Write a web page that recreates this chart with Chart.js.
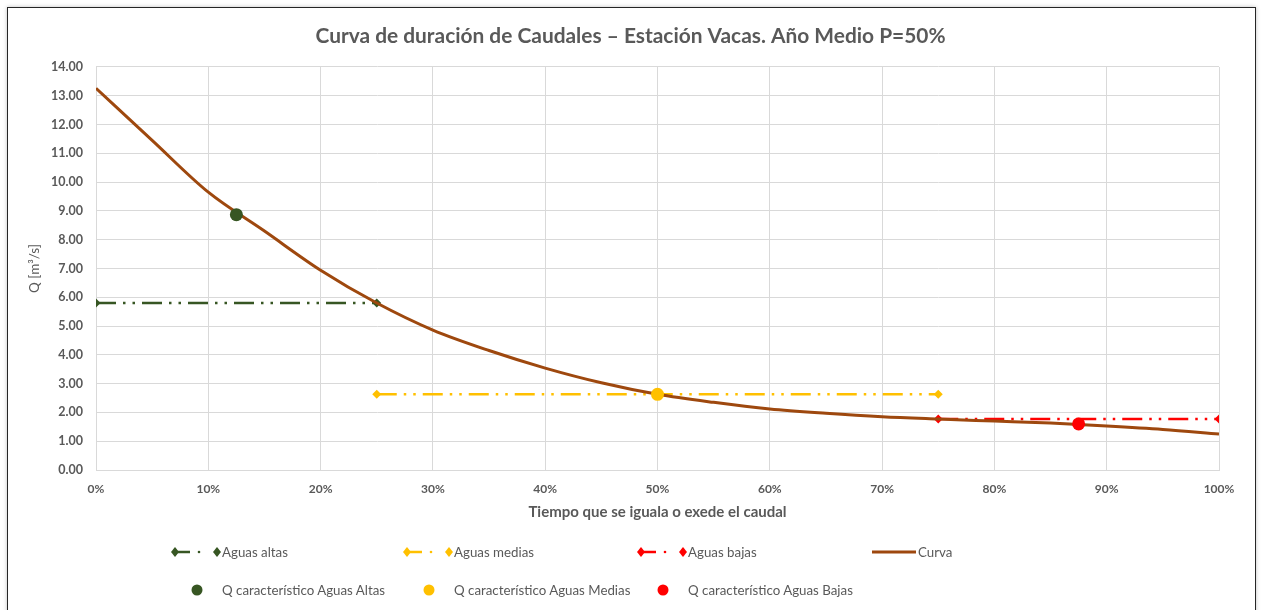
<!DOCTYPE html>
<html>
<head>
<meta charset="utf-8">
<script src="https://cdn.jsdelivr.net/npm/chart.js@4"></script>
<style>
  body { margin: 0; background: #fff; width: 1261px; height: 610px; overflow: hidden; position: relative; font-family: Lato, "Open Sans", sans-serif; }
  #frame { position: absolute; left: 7px; top: 7px; width: 1247px; height: 640px; border: 1px solid #262626; box-shadow: 0 0 4px rgba(0,0,0,0.25); pointer-events: none; }
  #wrap { position: absolute; left: 0; top: 0; }
  .leg { position: absolute; font-size: 13.3px; color: #595959; display: flex; align-items: center; white-space: nowrap; }
  .leg svg { display: block; }
</style>
</head>
<body>
<div id="wrap"><canvas id="chart" width="1261" height="530"></canvas></div>
<div id="frame"></div>
<div id="legend"></div>
<script>
// ============================================================================
//  DATOS
// ============================================================================
const curvaX = [0, 5, 10, 15, 20, 25, 30, 35, 40, 45, 50, 55, 60, 65, 70, 75, 80, 85, 90, 95, 100];
const curvaQ = [13.26, 11.45, 9.65, 8.30, 6.94, 5.80, 4.86, 4.15, 3.54, 3.03, 2.63, 2.35, 2.12, 1.97, 1.85, 1.77, 1.70, 1.63, 1.53, 1.41, 1.25];

const altasX = [0, 25];
const altasQ = [5.80, 5.80];
const mediasX = [25, 75];
const mediasQ = [2.63, 2.63];
const bajasX = [75, 100];
const bajasQ = [1.77, 1.77];

const qAltas = { x: 12.5, y: 8.87 };
const qMedias = { x: 50, y: 2.63 };
const qBajas = { x: 87.5, y: 1.60 };

const yTicks = [0, 1, 2, 3, 4, 5, 6, 7, 8, 9, 10, 11, 12, 13, 14];
const xTicks = [0, 10, 20, 30, 40, 50, 60, 70, 80, 90, 100];

const VERDE = "#375623", AMARILLO = "#FFC000", ROJO = "#FF0000", MARRON = "#9E480E";
const GRIS = "#595959";
const DASH = [20, 7, 2.5, 7, 2.5, 7];

const pts = (xs, ys) => xs.map((x, i) => ({ x: x, y: ys[i] }));

function lineaAguas(label, xs, ys, color) {
    return {
        label: label, data: pts(xs, ys), borderColor: color, backgroundColor: color,
        borderWidth: 2.5, borderDash: DASH, pointStyle: "rectRot", pointRadius: 4.5,
        pointBorderWidth: 0, order: 3
    };
}
function puntoQ(label, p, color) {
    return {
        label: label, data: [p], borderColor: color, backgroundColor: color,
        showLine: false, pointRadius: 6.5, pointBorderWidth: 0, order: 0
    };
}

// ============================================================================
//  CHART
// ============================================================================
new Chart(document.getElementById("chart"), {
    type: "line",
    data: {
        datasets: [
            lineaAguas("Aguas altas", altasX, altasQ, VERDE),
            lineaAguas("Aguas medias", mediasX, mediasQ, AMARILLO),
            lineaAguas("Aguas bajas", bajasX, bajasQ, ROJO),
            {
                label: "Curva", data: pts(curvaX, curvaQ), borderColor: MARRON,
                borderWidth: 3, pointRadius: 0, cubicInterpolationMode: "monotone", order: 1
            },
            puntoQ("Q característico Aguas Altas", qAltas, VERDE),
            puntoQ("Q característico Aguas Medias", qMedias, AMARILLO),
            puntoQ("Q característico Aguas Bajas", qBajas, ROJO)
        ]
    },
    options: {
        responsive: false,
        animation: false,
        layout: { padding: { top: 10, right: 0, left: 0, bottom: 0 } },
        plugins: {
            legend: { display: false },
            tooltip: { enabled: false },
            title: {
                display: true,
                text: "Curva de duración de Caudales – Estación Vacas. Año Medio P=50%",
                color: GRIS,
                font: { family: "Lato", size: 20.9, weight: "bold" },
                padding: { top: 14, bottom: 17.9 }
            }
        },
        scales: {
            x: {
                type: "linear", min: 0, max: 100,
                afterBuildTicks: s => { s.ticks = xTicks.map(v => ({ value: v })); },
                ticks: { callback: v => v + "%", color: GRIS, font: { family: "Lato", size: 12, weight: "bold" }, padding: 12, maxRotation: 0 },
                grid: { color: "#d9d9d9", lineWidth: 1, drawTicks: false },
                border: { color: "#d9d9d9" },
                title: { display: true, text: "Tiempo que se iguala o exede el caudal", color: GRIS,
                    font: { family: "Lato", size: 15, weight: "bold" }, padding: { top: 0, bottom: 9 } },
                afterFit: s => { s.height = 60; }
            },
            y: {
                min: 0, max: 14,
                afterBuildTicks: s => { s.ticks = yTicks.map(v => ({ value: v })); },
                ticks: { callback: v => v.toFixed(2), color: GRIS, font: { family: "Lato", size: 12.5, weight: "bold" }, padding: 13 },
                grid: { color: "#d9d9d9", lineWidth: 1, drawTicks: false },
                border: { color: "#d9d9d9" },
                title: { display: true, text: "Q [m³/s]", color: GRIS,
                    font: { family: "Lato", size: 13.5 }, padding: { top: 27, bottom: 0 } },
                afterFit: s => { s.width = 96; }
            },
            // margen derecho vacío (para que el título quede centrado en todo el lienzo)
            yDer: {
                position: "right", min: 0, max: 14,
                grid: { display: false, drawTicks: false },
                ticks: { display: false },
                border: { display: false },
                afterFit: s => { s.width = 42; }
            }
        }
    }
});

// ============================================================================
//  LEYENDA (HTML)
// ============================================================================
const legendItems = [
    { label: "Aguas altas", color: VERDE, kind: "dash", x: 170, y: 552 },
    { label: "Aguas medias", color: AMARILLO, kind: "dash", x: 402, y: 552 },
    { label: "Aguas bajas", color: ROJO, kind: "dash", x: 636, y: 552 },
    { label: "Curva", color: MARRON, kind: "line", x: 872, y: 552 },
    { label: "Q característico Aguas Altas", color: VERDE, kind: "dot", x: 170, y: 590 },
    { label: "Q característico Aguas Medias", color: AMARILLO, kind: "dot", x: 402, y: 590 },
    { label: "Q característico Aguas Bajas", color: ROJO, kind: "dot", x: 636, y: 590 }
];

function swatch(it) {
    const c = it.color;
    const dia = cx => `<polygon points="${cx},5 ${cx + 4},10 ${cx},15 ${cx - 4},10" fill="${c}"/>`;
    if (it.kind === "dash") {
        return `<svg width="52" height="20">${dia(5)}<line x1="5" y1="10" x2="20" y2="10" stroke="${c}" stroke-width="2.5"/>` +
            `<circle cx="29" cy="10" r="1.3" fill="${c}"/>${dia(47)}</svg>`;
    }
    if (it.kind === "line") {
        return `<svg width="46" height="20"><line x1="0" y1="10" x2="44" y2="10" stroke="${c}" stroke-width="3"/></svg>`;
    }
    return `<svg width="52" height="20"><circle cx="27" cy="10" r="5.5" fill="${c}"/></svg>`;
}

const legend = document.getElementById("legend");
legendItems.forEach(it => {
    const d = document.createElement("div");
    d.className = "leg";
    d.style.left = it.x + "px";
    d.style.top = (it.y - 10) + "px";
    d.innerHTML = swatch(it) + `<span>${it.label}</span>`;
    legend.appendChild(d);
});
</script>
</body>
</html>
